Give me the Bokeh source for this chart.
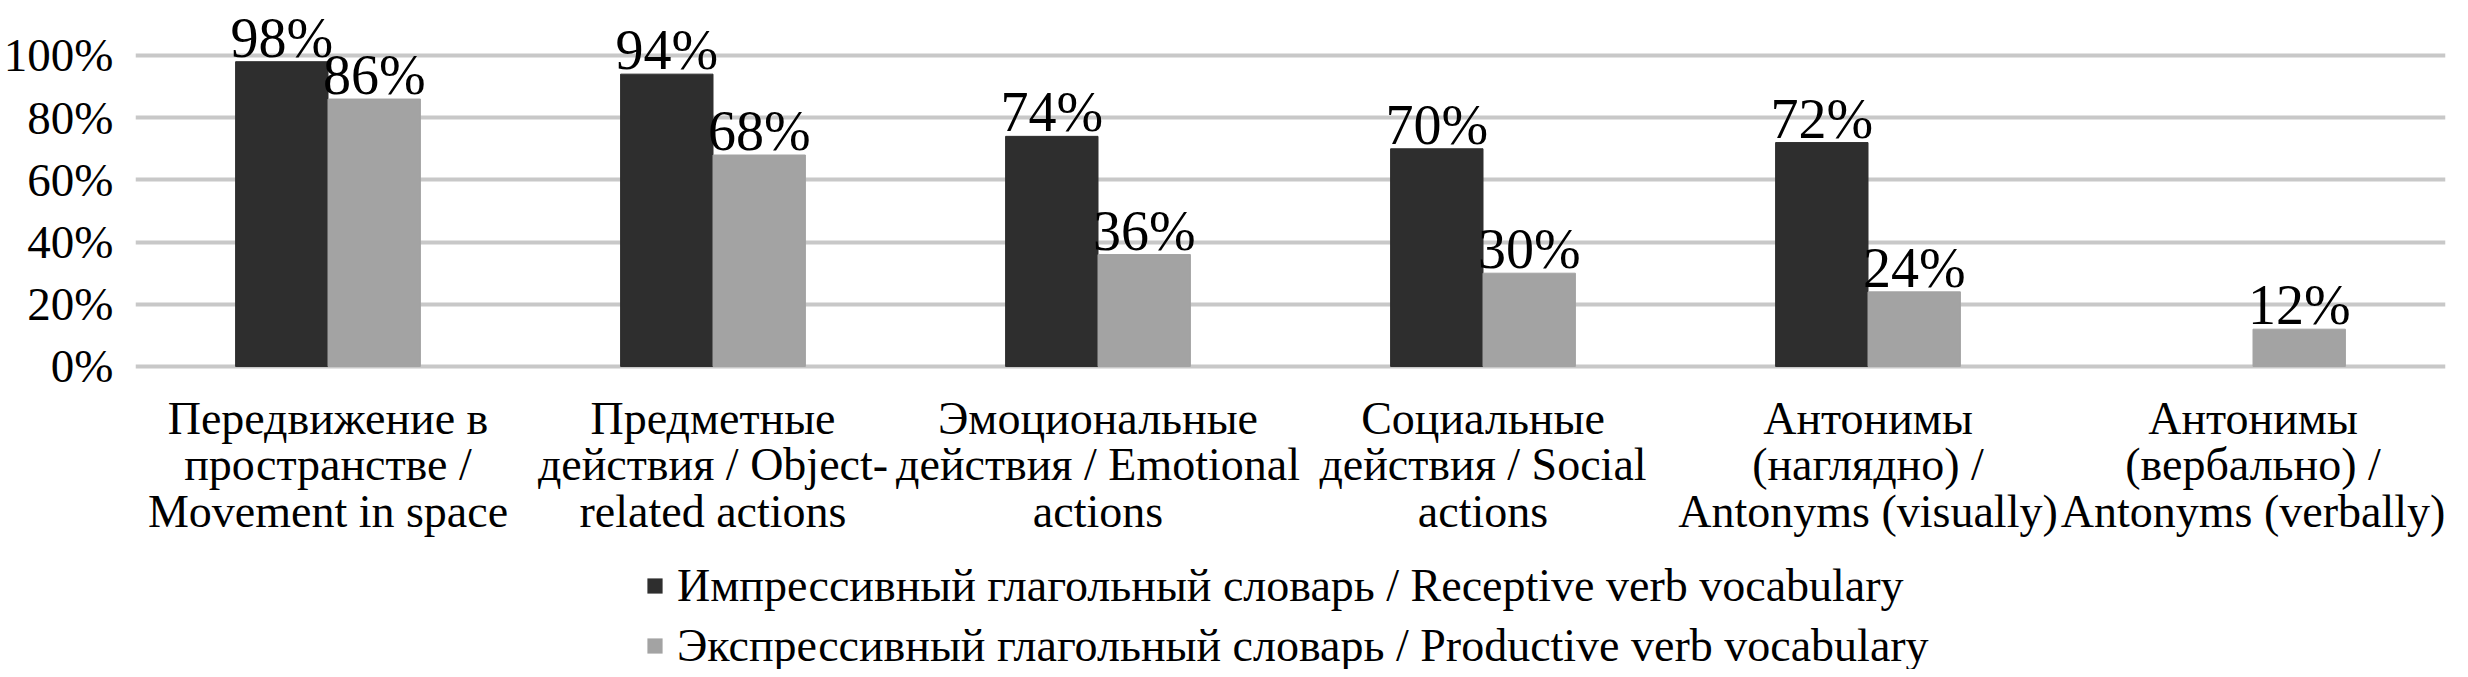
import math
from bokeh.plotting import figure
from bokeh.layouts import column
from bokeh.models import (FactorRange, Range1d, FixedTicker, NumeralTickFormatter,
                          Legend, LegendItem, ColumnDataSource)
from bokeh.core.properties import value
from bokeh.transform import dodge
from bokeh.embed import file_html
from bokeh.resources import INLINE

# ---- data ----
categories = [
    "Передвижение в\nпространстве /\nMovement in space",
    "Предметные\nдействия / Object-\nrelated actions",
    "Эмоциональные\nдействия / Emotional\nactions",
    "Социальные\nдействия / Social\nactions",
    "Антонимы\n(наглядно) /\nAntonyms (visually)",
    "Антонимы\n(вербально) /\nAntonyms (verbally)",
]
receptive = [0.98, 0.94, 0.74, 0.70, 0.72, float("nan")]
productive = [0.86, 0.68, 0.36, 0.30, 0.24, 0.12]
series_names = [
    "Импрессивный глагольный словарь / Receptive verb vocabulary",
    "Экспрессивный глагольный словарь / Productive verb vocabulary",
]
y_ticks = [0.0, 0.2, 0.4, 0.6, 0.8, 1.0]

# ---- style ----
FONT = "Liberation Serif"
DARK = "#2e2e2e"
LIGHT = "#a3a3a3"
GRID = "#c8c8c8"
W = 2452
TOP = 8
FRAME_H = 363
MAIN_H = 553
LEG_H = 116

def pct(v):
    return "" if (v is None or (isinstance(v, float) and math.isnan(v))) else f"{round(v*100)}%"

src = ColumnDataSource(dict(
    cat=categories,
    rec=receptive,
    pro=productive,
    rec_lbl=[pct(v) for v in receptive],
    pro_lbl=[pct(v) for v in productive],
))

p = figure(x_range=FactorRange(*categories), y_range=Range1d(-0.0161, 1.1511),
           width=W, height=MAIN_H, output_backend="svg", toolbar_location=None,
           min_border_left=126, min_border_right=7, min_border_top=TOP,
           min_border_bottom=MAIN_H - FRAME_H - TOP)
p.outline_line_color = None

r1 = p.vbar(x=dodge("cat", -0.12, range=p.x_range), top="rec", width=0.24, source=src,
            fill_color=DARK, line_color=DARK)
r2 = p.vbar(x=dodge("cat", 0.12, range=p.x_range), top="pro", width=0.24, source=src,
            fill_color=LIGHT, line_color=LIGHT)

for col, lbl, off in (("rec", "rec_lbl", -0.12), ("pro", "pro_lbl", 0.12)):
    p.text(x=dodge("cat", off, range=p.x_range), y=col, text=lbl, source=src,
           text_align="center", text_baseline="alphabetic", y_offset=-24,
           text_font=value(FONT), text_font_size="56px", text_color="black")

p.xgrid.grid_line_color = None
p.ygrid.ticker = FixedTicker(ticks=y_ticks)
p.ygrid.grid_line_color = GRID
p.ygrid.grid_line_width = 4

p.yaxis.ticker = FixedTicker(ticks=y_ticks)
p.yaxis.formatter = NumeralTickFormatter(format="0%")
for ax in (p.xaxis, p.yaxis):
    ax.axis_line_color = None
    ax.major_tick_line_color = None
    ax.minor_tick_line_color = None
    ax.major_label_text_font = FONT
    ax.major_label_text_color = "black"
p.yaxis.major_label_text_font_size = "47px"
p.yaxis.major_label_standoff = 16
p.xaxis.major_label_text_font_size = "46px"
p.xaxis.major_label_text_line_height = 0.92
p.xaxis.major_label_standoff = 15

# ---- legend (separate strip below the chart) ----
lg = figure(x_range=FactorRange(*categories), y_range=Range1d(0, 1), width=W, height=LEG_H,
            output_backend="svg", toolbar_location=None,
            x_axis_location=None, y_axis_location=None,
            min_border_left=0, min_border_right=0, min_border_top=0, min_border_bottom=0)
lg.grid.visible = False
lg.outline_line_color = None
# zero-height swatch renderers (nothing drawn in the strip, only used by the legend)
d1 = lg.vbar(x="cat", top=0, bottom=0, width=0.24, source=src,
             fill_color=DARK, line_color=None)
d2 = lg.vbar(x="cat", top=0, bottom=0, width=0.24, source=src,
             fill_color=LIGHT, line_color=None)

legend = Legend(items=[LegendItem(label=series_names[0], renderers=[d1]),
                       LegendItem(label=series_names[1], renderers=[d2])],
                location=(510, -3), orientation="vertical",
                label_text_font=FONT, label_text_font_size="46px", label_text_color="black",
                glyph_width=19, glyph_height=19, label_standoff=13, spacing=7,
                border_line_color=None, background_fill_alpha=0, padding=0, margin=0)
lg.add_layout(legend, "center")

layout = column(p, lg, spacing=0)
open("out.html", "w").write(file_html(layout, INLINE))
